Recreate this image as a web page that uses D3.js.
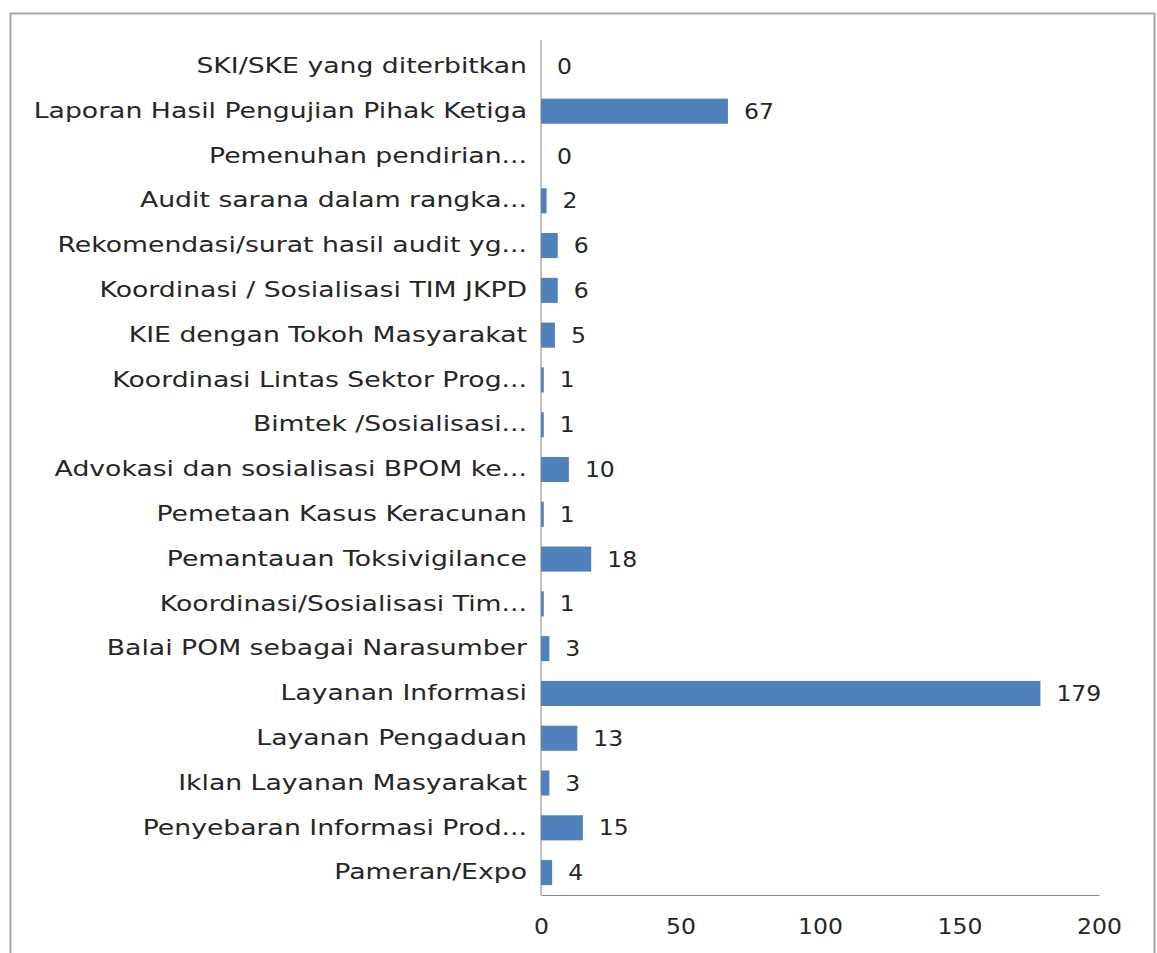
<!DOCTYPE html>
<html>
<head>
<meta charset="utf-8">
<script src="https://cdn.jsdelivr.net/npm/d3@7"></script>
<style>
  body { margin: 0; background: #fff; }
  svg text { font-family: "DejaVu Sans", sans-serif; fill: #262626; }
</style>
</head>
<body>
<div id="content"></div>
<script>
const categories = [
    'SKI/SKE yang diterbitkan',
    'Laporan Hasil Pengujian Pihak Ketiga',
    'Pemenuhan pendirian...',
    'Audit sarana dalam rangka...',
    'Rekomendasi/surat hasil audit yg...',
    'Koordinasi / Sosialisasi TIM JKPD',
    'KIE dengan Tokoh Masyarakat',
    'Koordinasi Lintas Sektor Prog...',
    'Bimtek /Sosialisasi...',
    'Advokasi dan sosialisasi BPOM ke...',
    'Pemetaan Kasus Keracunan',
    'Pemantauan Toksivigilance',
    'Koordinasi/Sosialisasi Tim...',
    'Balai POM sebagai Narasumber',
    'Layanan Informasi',
    'Layanan Pengaduan',
    'Iklan Layanan Masyarakat',
    'Penyebaran Informasi Prod...',
    'Pameran/Expo'
];
const values = [0, 67, 0, 2, 6, 6, 5, 1, 1, 10, 1, 18, 1, 3, 179, 13, 3, 15, 4];
const xTicks = [0, 50, 100, 150, 200];

const width = 1157, height = 953;
const labelStretch = 1.27;   // the source text is squashed wide
const numStretch = 1.12;

const svg = d3.select('#content').append('svg')
    .attr('width', width)
    .attr('height', height);

// outer frame
svg.append('rect')
    .attr('x', 10.5).attr('y', 13.5)
    .attr('width', 1144).attr('height', 960)
    .attr('fill', 'none')
    .attr('stroke', '#a6a6a6')
    .attr('stroke-width', 2);

const x = d3.scaleLinear().domain([0, 200]).range([541, 1099]);
const y = d3.scaleBand().domain(categories).range([44, 895]).paddingInner(0.44).paddingOuter(0.22);

// bars
svg.selectAll('rect.bar').data(values).enter().append('rect')
    .classed('bar', true)
    .attr('x', x(0))
    .attr('y', (d, i) => y(categories[i]))
    .attr('width', d => x(d) - x(0))
    .attr('height', y.bandwidth())
    .attr('fill', '#4f81bd');

// value labels
svg.selectAll('text.val').data(values).enter().append('text')
    .classed('val', true)
    .attr('transform', (d, i) => 'translate(' + (x(d) + 16) + ',' + (y(categories[i]) + y.bandwidth() / 2) + ') scale(' + numStretch + ',1)')
    .attr('dy', '0.36em')
    .attr('font-size', 21)
    .text(d => d);

// category axis
const yAxis = svg.append('g')
    .attr('transform', 'translate(' + x(0) + ',0)')
    .call(d3.axisLeft(y).tickSize(0).tickPadding(14));
yAxis.select('.domain').attr('stroke', '#868686').attr('d', 'M0,40V895');
yAxis.selectAll('text')
    .attr('x', 0)
    .attr('transform', 'translate(-14,0) scale(' + labelStretch + ',1)')
    .attr('font-size', 21)
    .attr('font-family', '"DejaVu Sans", sans-serif')
    .attr('fill', '#262626');

// value axis
const xAxis = svg.append('g')
    .attr('transform', 'translate(0,895)')
    .call(d3.axisBottom(x).tickValues(xTicks).tickSize(0).tickPadding(24));
xAxis.select('.domain').attr('stroke', '#868686');
xAxis.selectAll('text')
    .attr('transform', 'scale(' + numStretch + ',1)')
    .attr('font-size', 21)
    .attr('font-family', '"DejaVu Sans", sans-serif')
    .attr('fill', '#404040');
</script>
</body>
</html>
